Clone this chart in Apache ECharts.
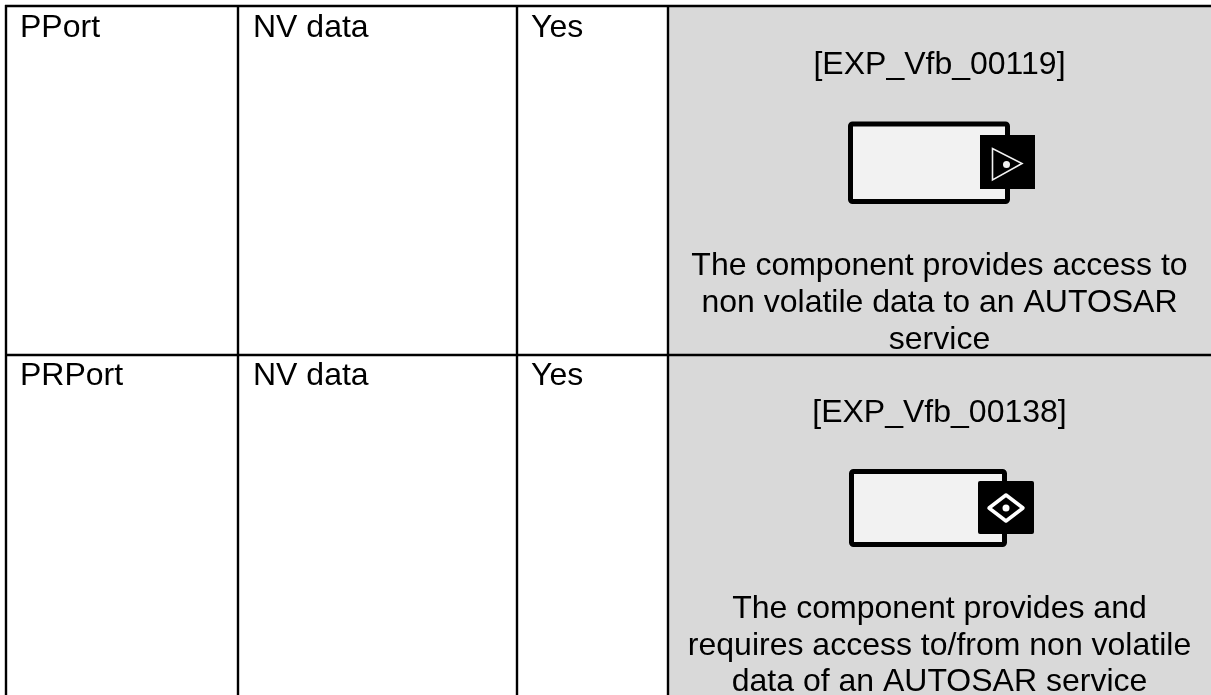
<!DOCTYPE html>
<html><head><meta charset="utf-8"><style>html,body{margin:0;padding:0;background:#fff}#c{width:1211px;height:695px}</style>
<script src="https://cdn.jsdelivr.net/npm/echarts@6/dist/echarts.min.js"></script></head><body><div id="c"></div><script>
const portKinds = ["PPort", "PRPort"];
const dataKinds = ["NV data", "NV data"];
const flags = ["Yes", "Yes"];
const refs = ["[EXP_Vfb_00119]", "[EXP_Vfb_00138]"];
const descriptions = [
  ["The component provides access to", "non volatile data to an AUTOSAR", "service"],
  ["The component provides and", "requires access to/from non volatile", "data of an AUTOSAR service"]
];
const font = '"Liberation Sans", Arial, sans-serif';
const X = [6, 238, 517, 668], rowY = [6, 355, 695], W = 1211;
const g = [];
const line = (x1,y1,x2,y2,w=2.4)=>g.push({type:'line',shape:{x1,y1,x2,y2},style:{stroke:'#000',lineWidth:w},z:5});
const text = (t,x,y,align='left')=>g.push({type:'text',x,y,z:6,style:{text:t,x:0,y:0,fill:'#000',font:'32px '+font,align,verticalAlign:'middle'}});
g.push({type:'rect',shape:{x:X[3],y:rowY[0],width:W-X[3],height:rowY[2]-rowY[0]},style:{fill:'#d9d9d9'},z:1});
X.forEach(x=>line(x,rowY[0]-1,x,rowY[2]));
rowY.slice(0,2).forEach(y=>line(X[0]-1,y,W,y));
const descY=[[266,303,340],[609,646,682.5]], refY=[65,413], headY=[28,376];
portKinds.forEach((p,i)=>{
  text(p,X[0]+14,headY[i]); text(dataKinds[i],X[1]+15,headY[i]); text(flags[i],X[2]+14,headY[i]);
  const cx=(X[3]+W)/2;
  text(refs[i],cx,refY[i],'center');
  descriptions[i].forEach((d,j)=>text(d,cx,descY[i][j],'center'));
});
// port icons
g.push({type:'rect',shape:{x:850.5,y:124,width:157,height:77.5,r:2},style:{fill:'#f2f2f2',stroke:'#000',lineWidth:5},z:3});
g.push({type:'rect',shape:{x:980,y:135,width:55,height:54},style:{fill:'#000'},z:4});
g.push({type:'polygon',shape:{points:[[992.5,148.5],[992.5,180],[1022,163.5]]},style:{fill:'none',stroke:'#f2f2f2',lineWidth:1.6},z:5});
g.push({type:'circle',shape:{cx:1006.5,cy:164.5,r:3.5},style:{fill:'#f2f2f2'},z:5});
g.push({type:'rect',shape:{x:851.5,y:471.5,width:153,height:73,r:2},style:{fill:'#f2f2f2',stroke:'#000',lineWidth:5},z:3});
g.push({type:'rect',shape:{x:978,y:481,width:56,height:53,r:2},style:{fill:'#000'},z:4});
g.push({type:'polygon',shape:{points:[[1006,495],[1023,508],[1006,521],[989,508]]},style:{fill:'none',stroke:'#fff',lineWidth:3.5,lineJoin:'round'},z:5});
g.push({type:'circle',shape:{cx:1006,cy:508,r:3.5},style:{fill:'#fff'},z:5});
const chart=echarts.init(document.getElementById('c'),null,{renderer:'canvas'});
chart.setOption({animation:false,graphic:{elements:g}});
</script></body></html>
